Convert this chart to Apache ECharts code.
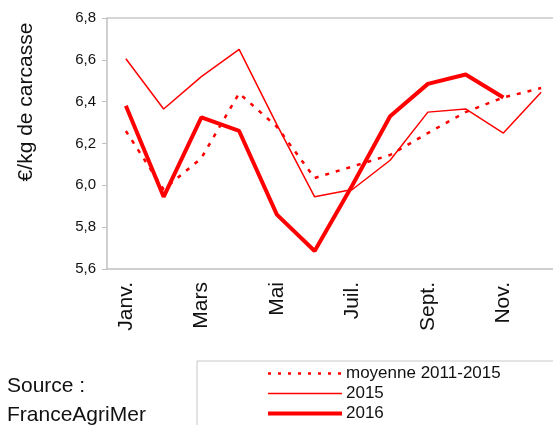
<!DOCTYPE html>
<html>
<head>
<meta charset="utf-8">
<script src="https://cdn.jsdelivr.net/npm/echarts@6/dist/echarts.min.js"></script>
<style>
  html, body { margin: 0; padding: 0; background: #fff; }
</style>
</head>
<body>
<div id="main" style="width: 553px;height:425px;"></div>
<script>
// mois
const months = ['Janv.', 'Févr.', 'Mars', 'Avr.', 'Mai', 'Juin', 'Juil.', 'Août', 'Sept.', 'Oct.', 'Nov.', 'Déc.'];
// prix en €/kg de carcasse
const moyenne = [6.26, 5.98, 6.13, 6.44, 6.28, 6.035, 6.09, 6.145, 6.25, 6.35, 6.42, 6.465];
const y2015 = [6.605, 6.365, 6.52, 6.65, 6.29, 5.945, 5.98, 6.12, 6.35, 6.365, 6.25, 6.445];
const y2016 = [6.38, 5.945, 6.325, 6.26, 5.86, 5.686, 6.0, 6.33, 6.485, 6.53, 6.42, null];
const yTicks = { min: 5.6, max: 6.8, interval: 0.2 };

const myChart = echarts.init(document.getElementById('main'));
const font = 'Liberation Sans, Arial, sans-serif';

const option = {
  animation: false,
  textStyle: { fontFamily: font },
  grid: { left: 107, top: 18, width: 453, height: 251, outerBoundsMode: 'none', containLabel: false },
  legend: {
    orient: 'vertical',
    left: 266,
    top: 365,
    height: 120,
    padding: 0,
    itemWidth: 74,
    itemHeight: 10,
    itemGap: 3,
    itemStyle: { opacity: 0 },
    textStyle: { fontSize: 17, lineHeight: 14, color: '#111', fontFamily: font, padding: [0, 0, 0, -1] },
    data: [
      { name: 'moyenne 2011-2015', lineStyle: { width: 2.5, type: [3, 7] } },
      { name: '2015', lineStyle: { width: 1.5 } },
      { name: '2016', lineStyle: { width: 4 } }
    ]
  },
  xAxis: {
    type: 'category',
    data: months,
    boundaryGap: true,
    axisLine: { lineStyle: { color: '#c0c0c0', width: 1.5 } },
    axisTick: { interval: 0, length: 5, lineStyle: { color: '#c0c0c0' } },
    axisLabel: { interval: 1, rotate: 90, margin: 13, fontSize: 21, color: '#111' }
  },
  yAxis: {
    type: 'value',
    min: yTicks.min,
    max: yTicks.max,
    interval: yTicks.interval,
    splitLine: { show: false },
    axisLine: { show: true, lineStyle: { color: '#c0c0c0', width: 1.5 } },
    axisTick: { show: true, length: 5, lineStyle: { color: '#c0c0c0' } },
    axisLabel: {
      margin: 11, fontSize: 15, color: '#111',
      formatter: function (v) { return v.toFixed(1).replace('.', ','); }
    }
  },
  graphic: [
    { type: 'line', shape: { x1: 107, y1: 18, x2: 553, y2: 18 }, style: { stroke: '#c8c8c8', lineWidth: 1.5 } },
    { type: 'rect', shape: { x: 197, y: 361, width: 400, height: 100 }, style: { fill: 'none', stroke: '#c8c8c8', lineWidth: 1 }, z: -1 },
    { type: 'text', x: 26, y: 102, rotation: Math.PI / 2,
      style: { text: '€/kg de carcasse', font: '21px ' + font, fill: '#111', align: 'center', verticalAlign: 'middle' } },
    { type: 'text', x: 7, y: 386,
      style: { text: 'Source :', font: '21px ' + font, fill: '#111', verticalAlign: 'middle' } },
    { type: 'text', x: 7, y: 415,
      style: { text: 'FranceAgriMer', font: '21px ' + font, fill: '#111', verticalAlign: 'middle' } }
  ],
  series: [
    {
      name: 'moyenne 2011-2015',
      type: 'line',
      symbol: 'none',
      data: moyenne,
      lineStyle: { color: '#ff0000', width: 2.5, type: [4, 7] },
      itemStyle: { color: '#ff0000' }
    },
    {
      name: '2015',
      type: 'line',
      symbol: 'none',
      data: y2015,
      lineStyle: { color: '#ff0000', width: 1.5 },
      itemStyle: { color: '#ff0000' }
    },
    {
      name: '2016',
      type: 'line',
      symbol: 'none',
      data: y2016,
      lineStyle: { color: '#ff0000', width: 4 },
      itemStyle: { color: '#ff0000' }
    }
  ]
};
myChart.setOption(option);
</script>
</body>
</html>
